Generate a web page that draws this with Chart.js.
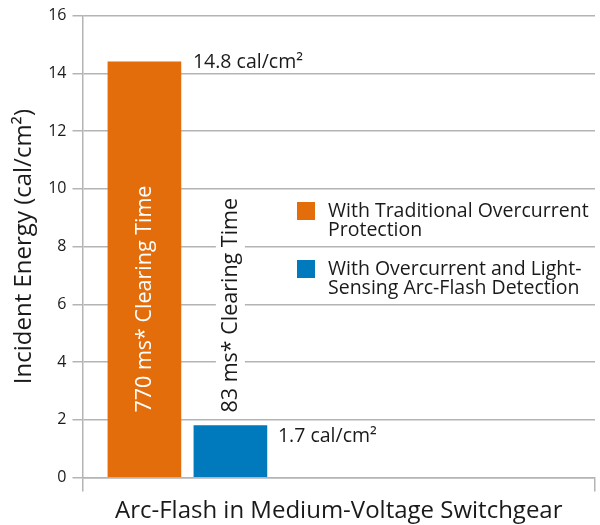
<!DOCTYPE html>
<html>
<head>
<meta charset="utf-8">
<script src="https://cdn.jsdelivr.net/npm/chart.js@4"></script>
<style>
  html, body { margin: 0; padding: 0; background: #fff; }
  #wrap { width: 600px; height: 525px; }
</style>
</head>
<body>
<div id="wrap"><canvas id="c" width="600" height="525"></canvas></div>
<script>
// ---- data ----
const categories = [
  'With Traditional Overcurrent Protection',
  'With Overcurrent and Light-Sensing Arc-Flash Detection'
];
const legendLines = [
  ['With Traditional Overcurrent', 'Protection'],
  ['With Overcurrent and Light-', 'Sensing Arc-Flash Detection']
];
const barPositions = [1, 2];
const incidentEnergy = [14.4, 1.8];
const valueLabels = ['14.8 cal/cm²', '1.7 cal/cm²'];
const clearingLabels = ['770 ms* Clearing Time', '83 ms* Clearing Time'];
const yTickValues = [0, 2, 4, 6, 8, 10, 12, 14, 16];
const xTitle = 'Arc-Flash in Medium-Voltage Switchgear';
const yTitle = 'Incident Energy (cal/cm²)';

// ---- styles ----
const barColors = ['#E36C0B', '#007ABD'];
const clearingColors = ['#ffffff', '#1a1a1a'];
const textColor = '#1a1a1a';
const gridColor = '#b4b4b7';
const FONT = '"Open Sans", sans-serif';

const annotate = {
  id: 'annotate',
  afterDatasetsDraw(chart, args, opts) {
    const ctx = chart.ctx;
    const ys = chart.scales.y;
    chart.data.datasets.forEach((ds, i) => {
      const bar = chart.getDatasetMeta(i).data[0];
      if (!bar) return;
      ctx.save();
      ctx.font = opts.labelSize + 'px ' + FONT;
      ctx.fillStyle = textColor;
      ctx.textAlign = 'left';
      ctx.textBaseline = 'alphabetic';
      ctx.fillText(valueLabels[i], bar.x + bar.width / 2 + opts.labelDx[i], bar.y + opts.labelDy[i]);
      ctx.translate(bar.x, ys.getPixelForValue(opts.clearingStart));
      ctx.rotate(-Math.PI / 2);
      ctx.font = opts.clearingSize + 'px ' + FONT;
      const w = ctx.measureText(clearingLabels[i]).width;
      if (opts.clearingBackground[i]) {
        ctx.fillStyle = '#ffffff';
        ctx.fillRect(-3, -14.5, w + 6, 29);
      }
      ctx.fillStyle = clearingColors[i];
      ctx.textAlign = 'left';
      ctx.textBaseline = 'middle';
      ctx.fillText(clearingLabels[i], 0, opts.clearingDy);
      ctx.restore();
    });
  }
};

const sideLegend = {
  id: 'sideLegend',
  afterDraw(chart, args, opts) {
    const ctx = chart.ctx;
    ctx.save();
    ctx.font = opts.size + 'px ' + FONT;
    ctx.textAlign = 'left';
    ctx.textBaseline = 'alphabetic';
    legendLines.forEach((lines, i) => {
      const top = opts.top + i * opts.itemGap;
      ctx.fillStyle = barColors[i];
      ctx.fillRect(opts.left, top, opts.box, opts.box);
      ctx.fillStyle = textColor;
      lines.forEach((ln, j) => {
        ctx.fillText(ln, opts.left + opts.textDx, top + opts.firstBaseline + j * opts.lineHeight);
      });
    });
    ctx.restore();
  }
};

function build() {
  Chart.defaults.font.family = FONT;
  Chart.defaults.color = textColor;
  new Chart(document.getElementById('c'), {
    type: 'bar',
    data: {
      datasets: categories.map((name, i) => ({
        label: name,
        data: [{ x: barPositions[i], y: incidentEnergy[i] }],
        backgroundColor: barColors[i],
        borderWidth: 0,
        barThickness: 73,
        grouped: false
      }))
    },
    options: {
      responsive: false,
      animation: false,
      layout: { padding: { top: 14, right: 5, left: 0, bottom: 0 } },
      plugins: {
        legend: { display: false },
        tooltip: { enabled: false },
        annotate: {
          labelSize: 19.5,
          labelDx: [12, 11],
          labelDy: [6, 16.5],
          clearingStart: 2.25,
          clearingSize: 21.5,
          clearingDy: 0,
          clearingBackground: [false, true]
        },
        sideLegend: {
          size: 19.5,
          left: 297, top: 202, itemGap: 58, box: 18,
          textDx: 31, firstBaseline: 14.5, lineHeight: 19.5
        }
      },
      scales: {
        x: {
          type: 'linear',
          min: 0.28,
          max: 6.24,
          offset: false,
          afterBuildTicks: s => { s.ticks = [{ value: s.min }, { value: s.max }]; },
          afterFit: s => { s.height = 47.5; },
          ticks: { display: false },
          grid: { display: true, drawOnChartArea: false, drawTicks: true, tickLength: 14, color: gridColor, lineWidth: 1.5, offset: false },
          border: { display: true, color: gridColor, width: 1.5 },
          title: {
            display: true,
            text: xTitle,
            color: textColor,
            font: { size: 24, lineHeight: 0.8 },
            padding: { top: 0, bottom: 4 }
          }
        },
        y: {
          type: 'linear',
          min: 0,
          max: 16,
          afterBuildTicks: s => { s.ticks = yTickValues.map(v => ({ value: v })); },
          afterFit: s => { s.width = 82.5; },
          ticks: { font: { size: 16 }, color: textColor, padding: 6 },
          grid: { color: gridColor, lineWidth: 1.5, tickLength: 10 },
          border: { display: true, color: gridColor, width: 1.5 },
          title: {
            display: true,
            text: yTitle,
            color: textColor,
            font: { size: 24 },
            padding: { top: 10, bottom: 0 }
          }
        }
      }
    },
    plugins: [annotate, sideLegend]
  });
}

if (document.fonts && document.fonts.load) {
  Promise.all([
    document.fonts.load('19px "Open Sans"'),
    document.fonts.load('24px "Open Sans"')
  ]).then(build, build);
} else {
  build();
}
</script>
</body>
</html>
